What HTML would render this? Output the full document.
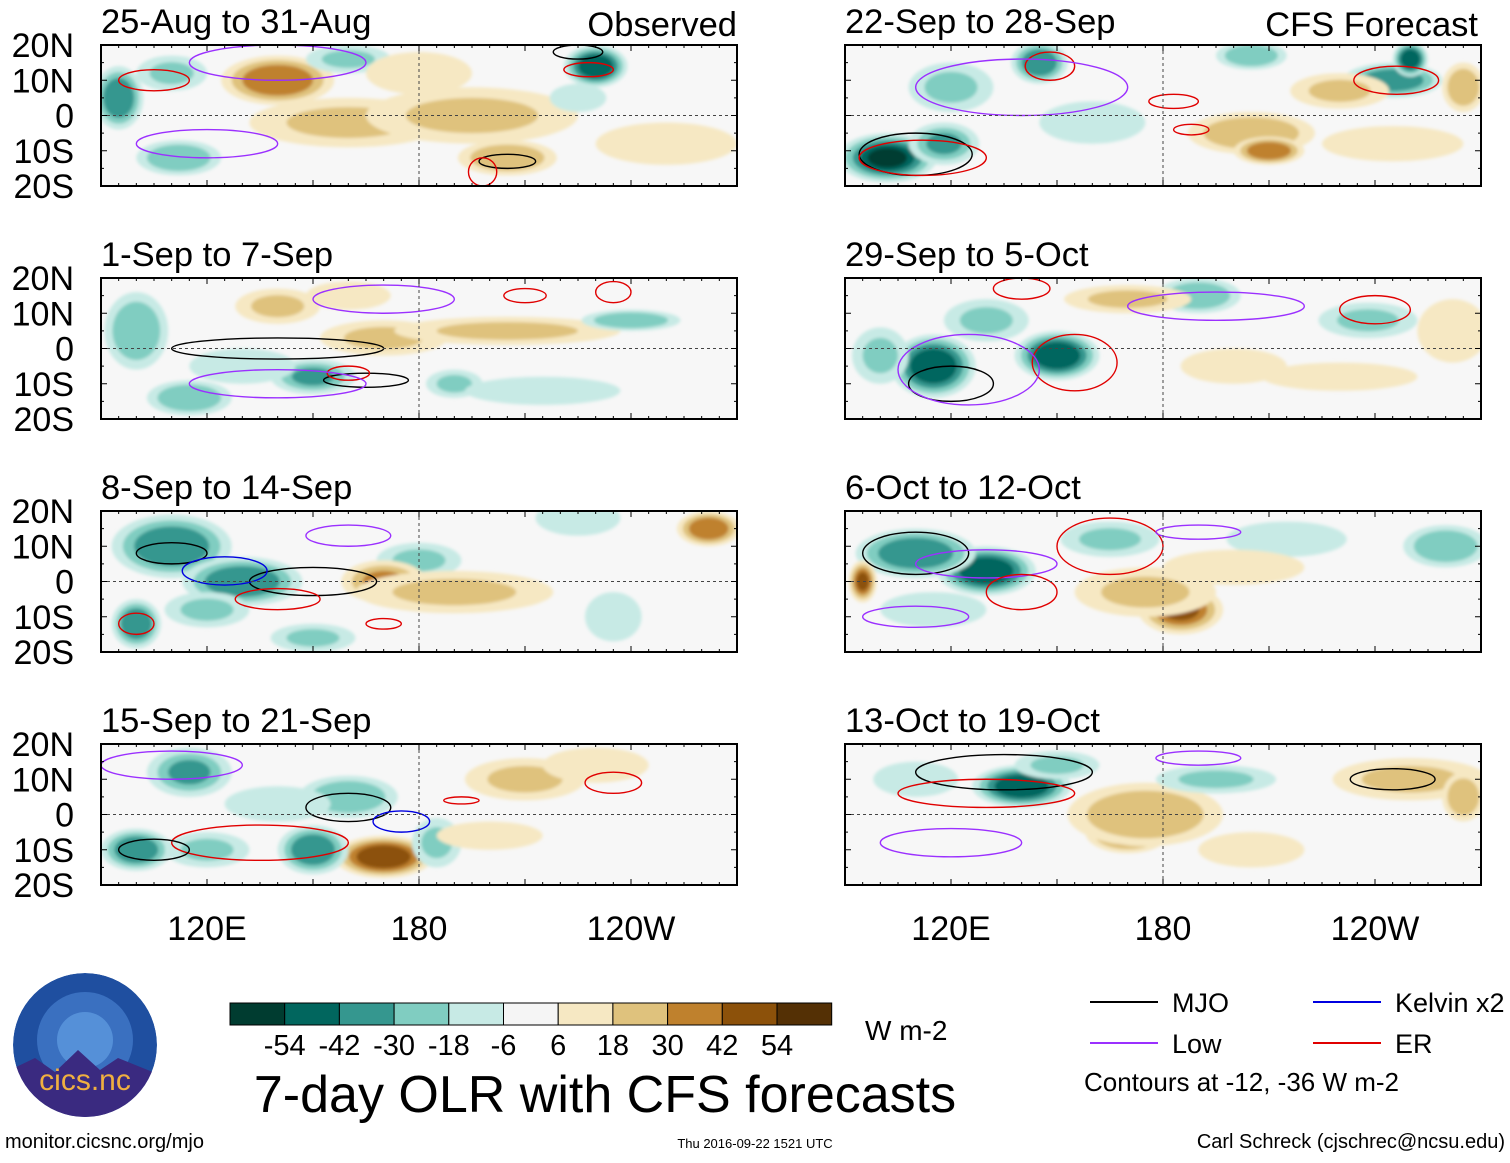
<!DOCTYPE html>
<html><head><meta charset="utf-8"><style>
body{margin:0;background:#fff;width:1510px;height:1158px;overflow:hidden;font-family:"Liberation Sans",sans-serif}
svg text{font-family:"Liberation Sans",sans-serif}
</style></head><body>
<svg id="c" width="1510" height="1158" xmlns="http://www.w3.org/2000/svg">
<defs><filter id="bl" x="-50%" y="-50%" width="200%" height="200%"><feGaussianBlur stdDeviation="1.5"/></filter>
<clipPath id="logoclip"><circle cx="85" cy="1045" r="72"/></clipPath></defs>
</svg>
<script>
const panelTitles=["25-Aug to 31-Aug","22-Sep to 28-Sep","1-Sep to 7-Sep","29-Sep to 5-Oct","8-Sep to 14-Sep","6-Oct to 12-Oct","15-Sep to 21-Sep","13-Oct to 19-Oct"];
const latTicks=["20N","10N","0","10S","20S"];
const lonTicks=["120E","180","120W"];
const lonTickVals=[120,180,240];
const cbarLabels=["-54","-42","-30","-18","-6","6","18","30","42","54"];
const cbarColors=["#003c30","#01665e","#35978f","#80cdc1","#c7eae5","#f5f5f5","#f6e8c3","#dfc27d","#bf812d","#8c510a","#543005"];
// anomaly blobs per panel: [lon, lat, value W m-2, half-width deg lon, half-height deg lat]
const blobs0=[[140,10,40,16,7],[160,-2,20,28,7],[195,0,22,30,8],[205,-12,28,14,5],[95,5,-40,7,9],[112,-12,-25,12,5],[230,14,-48,9,6],[160,16,-22,12,4],[110,12,-20,10,5],[180,12,15,15,6],[250,-8,10,20,6],[225,5,-15,8,4]];
const blobs1=[[102,-12,-55,14,7],[118,-8,-35,10,6],[145,15,-42,8,6],[205,17,-30,10,4],[245,10,-38,14,5],[250,16,-48,5,5],[205,-5,25,18,6],[210,-10,38,10,4],[265,8,28,6,7],[230,7,18,14,5],[120,8,-22,12,7],[160,-2,-15,15,6],[245,-8,15,20,5]];
const blobs2=[[100,5,-28,9,11],[140,12,18,12,5],[170,3,22,18,5],[205,5,20,32,4],[150,-8,-32,12,5],[190,-10,-22,8,4],[215,-12,-15,22,4],[240,8,-28,14,3],[115,-14,-28,12,5],[130,-5,-18,15,5],[160,15,15,12,4]];
const blobs3=[[115,-5,-50,12,9],[150,-2,-50,12,7],[130,8,-22,12,6],[190,15,-28,12,5],[238,8,-22,14,5],[170,14,20,18,4],[230,-8,12,22,4],[262,5,15,10,9],[100,-2,-20,8,8],[200,-5,10,15,5]];
const blobs4=[[110,10,-42,17,9],[100,-12,-42,7,7],[130,0,-38,17,7],[180,6,-22,12,5],[170,0,32,12,6],[190,-3,18,28,6],[262,15,38,9,5],[150,-16,-22,12,4],[225,18,-18,12,5],[120,-8,-20,12,5],[235,-10,-12,8,7]];
const blobs5=[[130,3,-52,14,7],[110,8,-38,17,7],[165,12,-22,14,5],[185,-8,42,12,7],[175,-3,22,20,7],[95,0,45,4,6],[260,10,-28,12,6],[215,12,-18,17,5],[115,-8,-15,15,5],[200,4,10,20,5]];
const blobs6=[[170,-12,52,14,6],[115,12,-32,12,7],[100,-10,-42,10,6],[150,-10,-38,10,7],[160,5,-28,14,6],[210,10,20,17,6],[185,-8,-22,7,7],[120,-10,-22,12,5],[230,14,10,15,5],[140,3,-15,15,5],[200,-6,10,15,4]];
const blobs7=[[140,8,-52,14,6],[170,-5,42,12,6],[175,0,28,22,9],[195,10,-22,17,4],[250,10,18,22,6],[265,5,28,6,7],[150,14,-22,12,4],[110,10,-15,12,5],[205,-10,10,15,5]];
const blobSets=[blobs0,blobs1,blobs2,blobs3,blobs4,blobs5,blobs6,blobs7];
// contours: [kind, lon, lat, half-width, half-height] kind 0 MJO,1 Low,2 ER,3 Kelvin
const cont0=[[0,225,18,7,2],[2,228,13,7,2],[0,205,-13,8,2],[2,198,-16,4,4],[1,140,15,25,5],[1,120,-8,20,4],[2,105,10,10,3]];
const cont1=[[0,110,-11,16,6],[2,112,-12,18,5],[2,148,14,7,4],[2,246,10,12,4],[2,183,4,7,2],[2,188,-4,5,1.5],[1,140,8,30,8]];
const cont2=[[0,140,0,30,3],[0,165,-9,12,2],[2,160,-7,6,2],[2,210,15,6,2],[2,235,16,5,3],[1,140,-10,25,4],[1,170,14,20,4]];
const cont3=[[0,120,-10,12,5],[2,155,-4,12,8],[2,240,11,10,4],[1,125,-6,20,10],[1,195,12,25,4],[2,140,17,8,3]];
const cont4=[[0,150,0,18,4],[0,110,8,10,3],[3,125,3,12,4],[2,140,-5,12,3],[2,100,-12,5,3],[1,160,13,12,3],[2,170,-12,5,1.5]];
const cont5=[[0,110,8,15,6],[1,130,5,20,4],[2,165,10,15,8],[1,190,14,12,2],[2,140,-3,10,5],[1,110,-10,15,3]];
const cont6=[[0,160,2,12,4],[3,175,-2,8,3],[2,135,-8,25,5],[2,235,9,8,3],[2,192,4,5,1],[1,110,14,20,4],[0,105,-10,10,3]];
const cont7=[[0,135,12,25,5],[2,130,6,25,4],[0,245,10,12,3],[1,190,16,12,2],[1,120,-8,20,4]];
const contSets=[cont0,cont1,cont2,cont3,cont4,cont5,cont6,cont7];

const S=document.getElementById('c'),NS="http://www.w3.org/2000/svg";
function mk(t,a,p){const e=document.createElementNS(NS,t);for(const k in a)e.setAttribute(k,a[k]);(p||S).appendChild(e);return e;}
const panelX=[101,845],panelY=[45,278,511,744],PW=636,PH=141;
function xs(px,lon){return px+(lon-90)/180*PW;}
function ys(py,lat){return py+(20-lat)/40*PH;}
function colorOf(v){let i=Math.floor((v+66)/12);i=Math.max(0,Math.min(10,i));return cbarColors[i];}
const contColors=["#000","#9b30ff","#e00000","#0000e0"];
for(let p=0;p<8;p++){
  const px=panelX[p%2],py=panelY[Math.floor(p/2)];
  const g=mk('g',{});
  
  
  const cp=mk('clipPath',{id:'cp'+p},S);mk('rect',{x:px,y:py,width:PW,height:PH},cp);
  mk('rect',{x:px,y:py,width:PW,height:PH,fill:'#f7f7f7'},g);
  const bg=mk('g',{'clip-path':'url(#cp'+p+')'},g);
  const fg=mk('g',{filter:'url(#bl)'},bg);
  blobSets[p].forEach(b=>{
    const v=b[2],steps=Math.max(1,Math.round((Math.abs(v)-6)/12)+1);
    for(let s=1;s<=steps;s++){
      const f=1-0.75*(s-1)/steps;const lv=Math.sign(v)*(6+12*(s-1)+3);
      const e=mk('ellipse',{cx:xs(px,b[0]),cy:ys(py,b[1]),rx:b[3]*PW/180*f,ry:b[4]*PH/40*f,fill:colorOf(s===steps?v:lv)},fg);
      
      
    }
  });
  contSets[p].forEach(c=>{
    const e=mk('ellipse',{cx:xs(px,c[1]),cy:ys(py,c[2]),rx:c[3]*PW/180,ry:c[4]*PH/40,fill:'none',stroke:contColors[c[0]],'stroke-width':1.4},bg);
    
    
  });
  mk('line',{x1:px,x2:px+PW,y1:ys(py,0),y2:ys(py,0),stroke:'#444','stroke-dasharray':'3,3','stroke-width':1},g);
  mk('line',{x1:xs(px,180),x2:xs(px,180),y1:py,y2:py+PH,stroke:'#444','stroke-dasharray':'3,3','stroke-width':1},g);
  mk('rect',{x:px,y:py,width:PW,height:PH,fill:'none',stroke:'#000','stroke-width':2},g);
  for(let lon=90;lon<=270;lon+=5){const x=xs(px,lon),l=lon%30===0?6:3;
    mk('line',{x1:x,x2:x,y1:py,y2:py+l,stroke:'#000'},g);mk('line',{x1:x,x2:x,y1:py+PH,y2:py+PH-l,stroke:'#000'},g);}
  for(let lat=-20;lat<=20;lat+=5){const y=ys(py,lat),l=lat%10===0?6:3;
    mk('line',{x1:px,x2:px+l,y1:y,y2:y,stroke:'#000'},g);mk('line',{x1:px+PW,x2:px+PW-l,y1:y,y2:y,stroke:'#000'},g);}
  const t=mk('text',{x:px,y:py-12,'font-size':34.5},g);t.textContent=panelTitles[p];
  
  if(p%2===0){latTicks.forEach((l,i)=>{const tt=mk('text',{x:74,y:py+i*PH/4+12,'font-size':34,'text-anchor':'end'},g);tt.textContent=l;
    });}
}
mk('text',{x:737,y:36,'font-size':34.5,'text-anchor':'end'}).textContent="Observed";
mk('text',{x:1478,y:36,'font-size':34.5,'text-anchor':'end'}).textContent="CFS Forecast";
panelX.forEach(px=>lonTickVals.forEach((v,i)=>{const t=mk('text',{x:xs(px,v),y:940,'font-size':34,'text-anchor':'middle'});t.textContent=lonTicks[i];
  }));
const cb=mk('g',{});
cbarColors.forEach((c,i)=>mk('rect',{x:230+i*54.7,y:1003,width:54.7,height:22,fill:c,stroke:'#000','stroke-width':1},cb));
cbarLabels.forEach((l,i)=>{const t=mk('text',{x:230+(i+1)*54.7,y:1055,'font-size':29,'text-anchor':'middle'},cb);t.textContent=l;});
mk('text',{x:865,y:1040,'font-size':28}).textContent="W m-2";
const ti=mk('text',{x:605,y:1112,'font-size':52,'text-anchor':'middle'});ti.textContent="7-day OLR with CFS forecasts";

[["MJO",1090,1002,0],["Low",1090,1043,1],["Kelvin x2",1313,1002,3],["ER",1313,1043,2]].forEach(l=>{
  const g=mk('g',{});
  mk('line',{x1:l[1],x2:l[1]+68,y1:l[2],y2:l[2],stroke:contColors[l[3]],'stroke-width':2},g);
  mk('text',{x:l[1]+82,y:l[2]+10,'font-size':27},g).textContent=l[0];});
mk('text',{x:1084,y:1091,'font-size':26}).textContent="Contours at -12, -36 W m-2";
mk('text',{x:5,y:1148,'font-size':20}).textContent="monitor.cicsnc.org/mjo";
mk('text',{x:755,y:1148,'font-size':13,'text-anchor':'middle'}).textContent="Thu 2016-09-22 1521 UTC";
mk('text',{x:1505,y:1148,'font-size':20,'text-anchor':'end'}).textContent="Carl Schreck (cjschrec@ncsu.edu)";
const lg=mk('g',{'clip-path':'url(#logoclip)'});
mk('circle',{cx:85,cy:1045,r:72,fill:'#1f4fa0'},lg);
mk('circle',{cx:85,cy:1040,r:48,fill:'#3a70c0'},lg);
mk('circle',{cx:85,cy:1040,r:28,fill:'#5590d8'},lg);
mk('path',{d:'M10,1070 L35,1058 L55,1072 L78,1050 L100,1070 L118,1058 L160,1075 L160,1120 L10,1120Z',fill:'#3a2a80'},lg);
mk('text',{x:85,y:1090,'font-size':30,'fill':'#f0b040','text-anchor':'middle'},lg).textContent="cics.nc";
</script>
</body></html>
